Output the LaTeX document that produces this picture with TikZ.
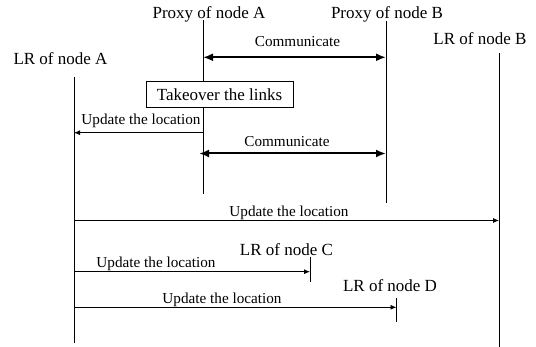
\documentclass[tikz,border=0pt]{standalone}
\usepackage{fontspec}
\setmainfont{Liberation Serif}
\usetikzlibrary{arrows.meta}
\begin{document}
\begin{tikzpicture}[x=1pt,y=-1pt,
  title/.style={font=\fontsize{17}{20}\selectfont, anchor=base, inner sep=0pt},
  msg/.style={font=\fontsize{15.2}{18}\selectfont, anchor=base, inner sep=0pt},
  life/.style={line width=0.8pt},
  onearrow/.style={line width=0.8pt, -{Latex[length=6pt,width=5pt]}},
  twoarrow/.style={line width=2pt, {Latex[length=10pt,width=8pt]}-{Latex[length=10pt,width=8pt]}},
  actbox/.style={draw, line width=0.8pt, minimum width=147pt, minimum height=26pt,
    text height=14pt, text depth=0pt, inner sep=0pt, font=\fontsize{17}{20}\selectfont}
]
\useasboundingbox (0,0) rectangle (536,347);

% participants
\node[title] (tA)  at (60.5,65)   {LR of node A};
\node[title] (tPA) at (209,18.3)  {Proxy of node A};
\node[title] (tPB) at (387,18.3)  {Proxy of node B};
\node[title] (tB)  at (480,45)    {LR of node B};
\node[title] (tC)  at (286.5,256) {LR of node C};
\node[title] (tD)  at (390,292)   {LR of node D};

% activity box on the proxy of A
\node[actbox] (box) at (219.5,94) {Takeover the links};

% lifeline end points
\coordinate (A0)  at (74,77);    \coordinate (A1)  at (74,343);
\coordinate (PA0) at (203,20);   \coordinate (PA1) at (203,194);
\coordinate (PB0) at (386,21);   \coordinate (PB1) at (386,203);
\coordinate (B0)  at (499,53);   \coordinate (B1)  at (499,347);
\coordinate (C0)  at (310,257);  \coordinate (C1)  at (310,282);
\coordinate (D0)  at (396.5,298);\coordinate (D1)  at (396.5,322);

% lifelines
\draw[life] (A0) -- (A1);
\draw[life] (PA0) -- (PA0 |- box.north);
\draw[life] (PA0 |- box.south) -- (PA1);
\draw[life] (PB0) -- (PB1);
\draw[life] (B0) -- (B1);
\draw[life] (C0) -- (C1);
\draw[life] (D0) -- (D1);

% message end points
\coordinate (m1s) at (203,57.3);   \coordinate (m1e) at (386,57.3);
\coordinate (m2s) at (203,132.7);  \coordinate (m2e) at (74,132.7);
\coordinate (m3s) at (199,153.5);  \coordinate (m3e) at (386,153.5);
\coordinate (m4s) at (74,220.5);   \coordinate (m4e) at (499,220.5);
\coordinate (m5s) at (74,271.7);   \coordinate (m5e) at (310,271.7);
\coordinate (m6s) at (74,307.3);   \coordinate (m6e) at (396.5,307.3);

% messages
\draw[twoarrow] (m1s) -- (m1e);
\draw[onearrow] (m2s) -- (m2e);
\draw[twoarrow] (m3s) -- (m3e);
\draw[onearrow] (m4s) -- (m4e);
\draw[onearrow] (m5s) -- (m5e);
\draw[onearrow] (m6s) -- (m6e);

% message labels
\node[msg] (l1) at (297.5,46.7) {Communicate};
\node[msg] (l2) at (141,125)    {Update the location};
\node[msg] (l3) at (287,146.7)  {Communicate};
\node[msg] (l4) at (289,217)    {Update the location};
\node[msg] (l5) at (156,268)    {Update the location};
\node[msg] (l6) at (222,304)    {Update the location};
\end{tikzpicture}
\end{document}
